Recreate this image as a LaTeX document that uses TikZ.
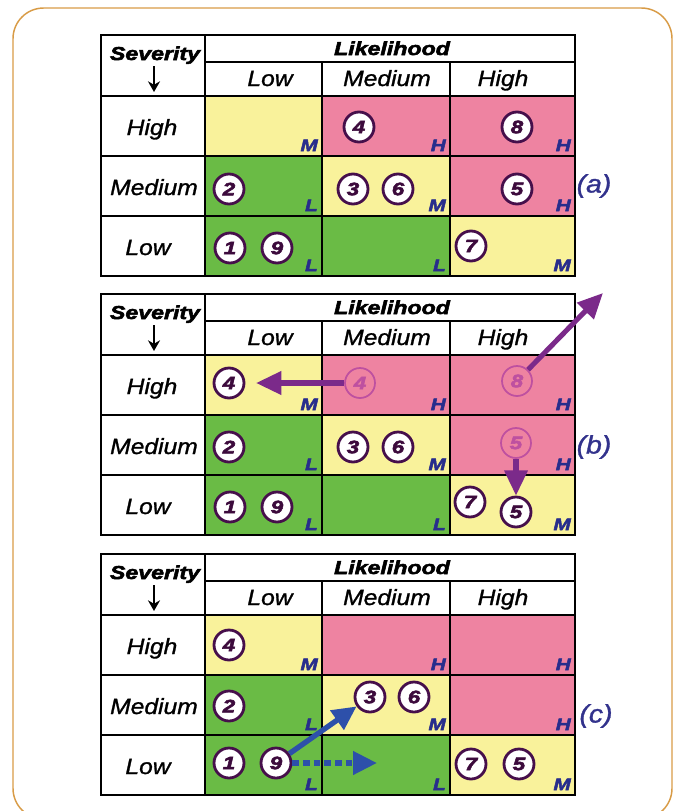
\documentclass[tikz,border=0pt]{standalone}
\usepackage{fontspec}
\setmainfont{Liberation Sans}
\newfontfamily\heavyfont[FakeStretch=1.24,BoldItalicFeatures={FakeBold=3}]{Liberation Sans}
\newfontfamily\wideitfont[FakeStretch=1.12,ItalicFeatures={FakeBold=1.2}]{Liberation Sans}
\usetikzlibrary{arrows.meta}

\begin{document}
\begin{tikzpicture}[x=0.75pt,y=0.75pt,yscale=-1,xscale=1,
  cellyel/.style={fill={rgb,255:red,249;green,242;blue,155}},
  cellpink/.style={fill={rgb,255:red,238;green,131;blue,161}},
  cellgreen/.style={fill={rgb,255:red,106;green,187;blue,69}},
  gridline/.style={line width=2.2pt,draw=black},
  titlelbl/.style={anchor=base,inner sep=0pt,font=\heavyfont\bfseries\itshape\fontsize{14}{16}\selectfont},
  headlbl/.style={anchor=base,inner sep=0pt,font=\wideitfont\itshape\fontsize{16.5}{18}\selectfont},
  risklbl/.style={anchor=base east,inner sep=0pt,text={rgb,255:red,40;green,45;blue,140},font=\heavyfont\bfseries\itshape\fontsize{12.5}{13}\selectfont},
  numcirc/.style={circle,draw={rgb,255:red,70;green,15;blue,75},fill=white,line width=2.1pt,minimum size=22.5pt,inner sep=0pt,text={rgb,255:red,60;green,10;blue,60},font=\heavyfont\bfseries\itshape\fontsize{13.5}{14}\selectfont},
  ghostcirc/.style={numcirc,draw={rgb,255:red,190;green,80;blue,160},fill=none,line width=1.3pt,text={rgb,255:red,190;green,80;blue,160}},
  tablbl/.style={inner sep=0pt,text={rgb,255:red,50;green,50;blue,140},font=\wideitfont\itshape\fontsize{19}{20}\selectfont},
  sevarrow/.style={line width=1.9pt,-{Stealth[length=8pt,width=9pt]}},
  parrow/.style={draw={rgb,255:red,123;green,42;blue,138},line width=3.8pt,-{Triangle[length=19pt,width=17pt]}},
  barrow/.style={draw={rgb,255:red,45;green,80;blue,170},line width=4pt,-{Triangle[length=18pt,width=17pt]}}]
\useasboundingbox (0,0) rectangle (677,811);

%Shape: Rounded Rectangle (frame, cut at the bottom)
\begin{scope}
\clip (0,0) rectangle (677,811);
\draw [draw={rgb,255:red,216;green,155;blue,70},line width=1.1pt,rounded corners=23pt] (13,8) rectangle (672,819);
\end{scope}

%%%%%%%%%%%%%%%% table (a)
\begin{scope}[shift={(0,35)}]
%Shape: Cells
\fill[cellyel] (205,61) rectangle (322,121);
\fill[cellpink] (322,61) rectangle (450,121);
\fill[cellpink] (450,61) rectangle (575,121);
\fill[cellgreen] (205,121) rectangle (322,181);
\fill[cellyel] (322,121) rectangle (450,181);
\fill[cellpink] (450,121) rectangle (575,181);
\fill[cellgreen] (205,181) rectangle (322,241);
\fill[cellgreen] (322,181) rectangle (450,241);
\fill[cellyel] (450,181) rectangle (575,241);
%Straight Lines
\draw[gridline] (101,0) rectangle (575,241);
\draw[gridline] (205,0) -- (205,241);
\draw[gridline] (205,27) -- (575,27);
\draw[gridline] (101,61) -- (575,61);
\draw[gridline] (101,121) -- (575,121);
\draw[gridline] (101,181) -- (575,181);
\draw[gridline] (322,27) -- (322,241);
\draw[gridline] (450,27) -- (450,241);
% Text Node
\node[titlelbl] (sevA) at (155,25) {Severity};
\coordinate (sevtopA) at (154,31);
\coordinate (sevbotA) at (154,57);
\draw[sevarrow] (sevtopA) -- (sevbotA);
\node[titlelbl] (likA) at (392,20) {Likelihood};
\node[headlbl] (lowA) at (270,51) {Low};
\node[headlbl] (medA) at (387,51) {Medium};
\node[headlbl] (highA) at (503,51) {High};
\node[headlbl] (rhighA) at (152,100) {High};
\node[headlbl] (rmedA) at (154,160) {Medium};
\node[headlbl] (rlowA) at (148,220) {Low};
% Risk letters
\node[risklbl] (r11A) at (318,116) {M};
\node[risklbl] (r12A) at (446,116) {H};
\node[risklbl] (r13A) at (571,116) {H};
\node[risklbl] (r21A) at (318,176) {L};
\node[risklbl] (r22A) at (446,176) {M};
\node[risklbl] (r23A) at (571,176) {H};
\node[risklbl] (r31A) at (318,236) {L};
\node[risklbl] (r32A) at (446,236) {L};
\node[risklbl] (r33A) at (571,236) {M};
% Hazards
\node[numcirc] (n4A) at (359,92) {4};
\node[numcirc] (n8A) at (517,92) {8};
\node[numcirc] (n2A) at (229,154) {2};
\node[numcirc] (n3A) at (353,154) {3};
\node[numcirc] (n6A) at (398,154) {6};
\node[numcirc] (n5A) at (517,154) {5};
\node[numcirc] (n1A) at (230,213) {1};
\node[numcirc] (n9A) at (277,213) {9};
\node[numcirc] (n7A) at (471,211) {7};
\node[tablbl] (labA) at (594,151) {(a)};
\end{scope}

%%%%%%%%%%%%%%%% table (b)
\begin{scope}[shift={(0,294)}]
%Shape: Cells
\fill[cellyel] (205,61) rectangle (322,121);
\fill[cellpink] (322,61) rectangle (450,121);
\fill[cellpink] (450,61) rectangle (575,121);
\fill[cellgreen] (205,121) rectangle (322,181);
\fill[cellyel] (322,121) rectangle (450,181);
\fill[cellpink] (450,121) rectangle (575,181);
\fill[cellgreen] (205,181) rectangle (322,241);
\fill[cellgreen] (322,181) rectangle (450,241);
\fill[cellyel] (450,181) rectangle (575,241);
%Straight Lines
\draw[gridline] (101,0) rectangle (575,241);
\draw[gridline] (205,0) -- (205,241);
\draw[gridline] (205,27) -- (575,27);
\draw[gridline] (101,61) -- (575,61);
\draw[gridline] (101,121) -- (575,121);
\draw[gridline] (101,181) -- (575,181);
\draw[gridline] (322,27) -- (322,241);
\draw[gridline] (450,27) -- (450,241);
% Text Node
\node[titlelbl] (sevB) at (155,25) {Severity};
\coordinate (sevtopB) at (154,31);
\coordinate (sevbotB) at (154,57);
\draw[sevarrow] (sevtopB) -- (sevbotB);
\node[titlelbl] (likB) at (392,20) {Likelihood};
\node[headlbl] (lowB) at (270,51) {Low};
\node[headlbl] (medB) at (387,51) {Medium};
\node[headlbl] (highB) at (503,51) {High};
\node[headlbl] (rhighB) at (152,100) {High};
\node[headlbl] (rmedB) at (154,160) {Medium};
\node[headlbl] (rlowB) at (148,220) {Low};
% Risk letters
\node[risklbl] (r11B) at (318,116) {M};
\node[risklbl] (r12B) at (446,116) {H};
\node[risklbl] (r13B) at (571,116) {H};
\node[risklbl] (r21B) at (318,176) {L};
\node[risklbl] (r22B) at (446,176) {M};
\node[risklbl] (r23B) at (571,176) {H};
\node[risklbl] (r31B) at (318,236) {L};
\node[risklbl] (r32B) at (446,236) {L};
\node[risklbl] (r33B) at (571,236) {M};
% Hazards
\node[numcirc] (n4B) at (229,89) {4};
\node[ghostcirc] (g4B) at (360,89) {4};
\node[ghostcirc] (g8B) at (517,87) {8};
\node[numcirc] (n2B) at (229,153) {2};
\node[numcirc] (n3B) at (353,153) {3};
\node[numcirc] (n6B) at (398,153) {6};
\node[ghostcirc] (g5B) at (516,149) {5};
\node[numcirc] (n1B) at (230,213) {1};
\node[numcirc] (n9B) at (277,213) {9};
\node[numcirc] (n7B) at (470,208) {7};
\node[numcirc] (n5B) at (516,218) {5};
\coordinate (out8B) at (603,-1);
% Moves
\draw[parrow,shorten >=8pt] (g4B) -- (n4B);
\draw[parrow] (g8B) -- (out8B);
\draw[parrow] (g5B) -- (n5B);
\node[tablbl] (labB) at (594,153) {(b)};
\end{scope}

%%%%%%%%%%%%%%%% table (c)
\begin{scope}[shift={(0,554)}]
%Shape: Cells
\fill[cellyel] (205,61) rectangle (322,121);
\fill[cellpink] (322,61) rectangle (450,121);
\fill[cellpink] (450,61) rectangle (575,121);
\fill[cellgreen] (205,121) rectangle (322,181);
\fill[cellyel] (322,121) rectangle (450,181);
\fill[cellpink] (450,121) rectangle (575,181);
\fill[cellgreen] (205,181) rectangle (322,241);
\fill[cellgreen] (322,181) rectangle (450,241);
\fill[cellyel] (450,181) rectangle (575,241);
%Straight Lines
\draw[gridline] (101,0) rectangle (575,241);
\draw[gridline] (205,0) -- (205,241);
\draw[gridline] (205,27) -- (575,27);
\draw[gridline] (101,61) -- (575,61);
\draw[gridline] (101,121) -- (575,121);
\draw[gridline] (101,181) -- (575,181);
\draw[gridline] (322,27) -- (322,241);
\draw[gridline] (450,27) -- (450,241);
% Text Node
\node[titlelbl] (sevC) at (155,25) {Severity};
\coordinate (sevtopC) at (154,31);
\coordinate (sevbotC) at (154,57);
\draw[sevarrow] (sevtopC) -- (sevbotC);
\node[titlelbl] (likC) at (392,20) {Likelihood};
\node[headlbl] (lowC) at (270,51) {Low};
\node[headlbl] (medC) at (387,51) {Medium};
\node[headlbl] (highC) at (503,51) {High};
\node[headlbl] (rhighC) at (152,100) {High};
\node[headlbl] (rmedC) at (154,160) {Medium};
\node[headlbl] (rlowC) at (148,220) {Low};
% Risk letters
\node[risklbl] (r11C) at (318,116) {M};
\node[risklbl] (r12C) at (446,116) {H};
\node[risklbl] (r13C) at (571,116) {H};
\node[risklbl] (r21C) at (318,176) {L};
\node[risklbl] (r22C) at (446,176) {M};
\node[risklbl] (r23C) at (571,176) {H};
\node[risklbl] (r31C) at (318,236) {L};
\node[risklbl] (r32C) at (446,236) {L};
\node[risklbl] (r33C) at (571,236) {M};
% Hazards
\node[numcirc] (n4C) at (229,91) {4};
\node[numcirc] (n2C) at (229,152) {2};
\node[numcirc] (n3C) at (370,143) {3};
\node[numcirc] (n6C) at (414,143) {6};
\node[numcirc] (n1C) at (229,209) {1};
\node[numcirc] (n9C) at (276,209) {9};
\node[numcirc] (n7C) at (471,210) {7};
\node[numcirc] (n5C) at (519,210) {5};
\coordinate (dashendC) at (377,209);
% Moves
\draw[barrow] (n9C) -- (n3C);
\draw[barrow,dash pattern=on 5pt off 3pt] (n9C) -- (dashendC);
\node[tablbl] (labC) at (596,162) {(c)};
\end{scope}

\end{tikzpicture}
\end{document}
